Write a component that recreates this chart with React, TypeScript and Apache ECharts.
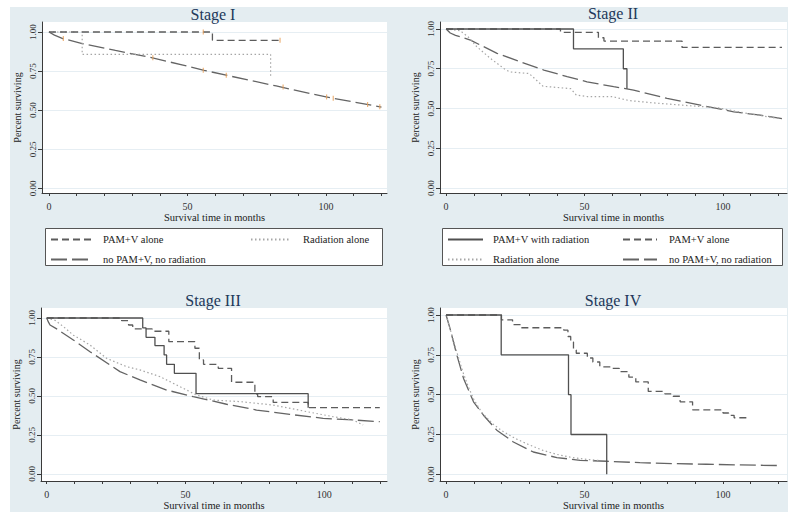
import React, { useEffect, useRef } from "react";
import * as echarts from "echarts";

// ---------- data ----------
const stageTitles = ["Stage I", "Stage II", "Stage III", "Stage IV"];
const groupNames = ["PAM+V with radiation", "PAM+V alone", "Radiation alone", "no PAM+V, no radiation"];
const xTickValues = [0, 10, 20, 30, 40, 50, 60, 70, 80, 90, 100, 110, 120];
const xLabelValues = [0, 50, 100];
const yTickValues = [0, 0.25, 0.5, 0.75, 1];

// Stage I
const s1PamAlone = [[0, 1], [59, 0.947], [83.5, 0.947]];
const s1Radiation = [[0, 1], [12, 0.857], [80, 0.714]];
const s1None = [[0, 1], [2, 0.98], [5, 0.958], [12, 0.926], [24, 0.882], [36, 0.84], [48, 0.79], [56, 0.755], [65, 0.72], [82, 0.655], [100, 0.585], [110, 0.553], [120, 0.52]];
const s1Censor = [[5.2, 0.958], [37.5, 0.836], [55.7, 0.756], [64, 0.724], [84.5, 0.648], [100.2, 0.585], [102.6, 0.577], [115, 0.537], [119.4, 0.522], [55.7, 1], [83.4, 0.947]];

// Stage II
const s2PamRad = [[0, 1], [46, 0.875], [64, 0.75], [65.3, 0.625]];
const s2PamAlone = [[0, 1], [41.3, 0.979], [55, 0.945], [57, 0.924], [85.2, 0.884], [121.3, 0.884]];
const s2Radiation = [[0, 1], [5, 0.99], [8, 0.95], [11, 0.89], [16, 0.815], [21, 0.75], [23, 0.73], [30, 0.72], [35, 0.64], [45, 0.625], [47, 0.585], [51, 0.575], [60, 0.575], [66, 0.55], [75, 0.535], [86, 0.52], [98, 0.505], [110, 0.465], [121, 0.435]];
const s2None = [[0, 1], [1.5, 0.975], [3.4, 0.96], [8.8, 0.93], [18.4, 0.847], [26.8, 0.794], [35.3, 0.742], [43.7, 0.7], [50.9, 0.668], [60.5, 0.637], [67.7, 0.616], [79.8, 0.563], [91.8, 0.521], [103.9, 0.479], [113.5, 0.458], [121.3, 0.437]];

// Stage III
const s3PamRad = [[0, 1], [34.6, 0.936], [35.8, 0.876], [39, 0.823], [42.3, 0.763], [43.2, 0.703], [46, 0.645], [53.8, 0.515], [94.2, 0.425]];
const s3PamAlone = [[0, 1], [27, 0.983], [29.5, 0.955], [31, 0.93], [38, 0.915], [44, 0.848], [53.4, 0.806], [55, 0.731], [56.5, 0.703], [61.8, 0.677], [66.6, 0.588], [75, 0.511], [76, 0.496], [81.6, 0.459], [94.2, 0.425], [120, 0.425]];
const s3Radiation = [[0, 1], [3, 0.985], [6, 0.945], [9.6, 0.89], [15.6, 0.827], [21.6, 0.741], [28.8, 0.688], [33.6, 0.667], [40.8, 0.624], [48, 0.56], [54, 0.506], [60, 0.474], [69.6, 0.464], [81.6, 0.442], [93.6, 0.4], [103, 0.368], [110.4, 0.346], [114, 0.314]];
const s3None = [[0, 1], [0.6, 0.975], [1.2, 0.955], [3.6, 0.93], [9.6, 0.859], [15.6, 0.784], [26.4, 0.656], [33.6, 0.603], [43.2, 0.538], [52.8, 0.496], [64.8, 0.447], [75.6, 0.41], [87.6, 0.382], [99.6, 0.357], [111.6, 0.345], [120, 0.335]];

// Stage IV
const s4PamRad = [[0, 1], [19.9, 0.75], [44.2, 0.5], [45.1, 0.25], [58, 0]];
const s4PamAlone = [[0, 1], [20, 0.97], [24, 0.94], [27, 0.92], [42.5, 0.905], [44, 0.865], [45, 0.83], [46, 0.78], [47, 0.76], [51, 0.73], [53, 0.705], [55.5, 0.675], [60, 0.665], [62.5, 0.645], [66, 0.61], [68.5, 0.58], [73, 0.52], [79, 0.505], [82, 0.49], [84.5, 0.455], [89, 0.405], [100, 0.385], [102, 0.37], [104, 0.355], [109.5, 0.355]];
const s4Radiation = [[0, 1], [2, 0.88], [4, 0.76], [6, 0.645], [8, 0.55], [10, 0.47], [13, 0.385], [17, 0.315], [20, 0.275], [25, 0.225], [30, 0.185], [35, 0.15], [40, 0.125], [45, 0.107], [50, 0.095], [55, 0.087]];
const s4None = [[0, 1], [1.4, 0.916], [3.9, 0.748], [6.3, 0.602], [9.9, 0.455], [13.5, 0.371], [18.3, 0.277], [24.3, 0.203], [31.5, 0.14], [40, 0.105], [48.4, 0.088], [58, 0.082], [70, 0.073], [82, 0.067], [94, 0.063], [106, 0.059], [120, 0.055]];

// ---------- styles ----------
const FONT = "Liberation Serif";
const styles: Record<string, any> = {
  "PAM+V with radiation": { color: "#505050", width: 1.3, type: "solid" },
  "PAM+V alone": { color: "#5c5c5c", width: 1.3, type: [7, 4] },
  "Radiation alone": { color: "#a6a6a6", width: 1.2, type: [1.5, 2.5] },
  "no PAM+V, no radiation": { color: "#646464", width: 1.3, type: [16, 5] },
};

const panels = [
  { grid: { left: 42, top: 22, width: 345, height: 171 }, x: [-2.5, 122], y: [-0.029, 1.064], title: [213, 14],
    series: [[groupNames[3], s1None, false], [groupNames[2], s1Radiation, true], [groupNames[1], s1PamAlone, true]] },
  { grid: { left: 440, top: 22, width: 347, height: 171 }, x: [-2.2, 123.1], y: [-0.0314, 1.044], title: [613, 13],
    series: [[groupNames[3], s2None, false], [groupNames[2], s2Radiation, false], [groupNames[1], s2PamAlone, true], [groupNames[0], s2PamRad, true]] },
  { grid: { left: 41, top: 308, width: 346, height: 173 }, x: [-2.05, 122.6], y: [-0.045, 1.064], title: [213, 300],
    series: [[groupNames[3], s3None, false], [groupNames[2], s3Radiation, false], [groupNames[1], s3PamAlone, true], [groupNames[0], s3PamRad, true]] },
  { grid: { left: 440, top: 308, width: 347, height: 173 }, x: [-2.2, 123.1], y: [-0.042, 1.044], title: [613, 300],
    series: [[groupNames[3], s4None, false], [groupNames[2], s4Radiation, false], [groupNames[1], s4PamAlone, true], [groupNames[0], s4PamRad, true]] },
];

function leg(name: string, left: number, top: number, w: number, pad: number) {
  return {
    data: [name], left, top, itemWidth: w, itemHeight: 10, padding: 0, selectedMode: false,
    itemStyle: { color: "rgba(0,0,0,0)", borderWidth: 0, opacity: 0 },
    textStyle: { fontFamily: FONT, fontSize: 10.5, color: "#222", padding: [0, 0, 0, pad] },
  };
}

export default function App() {
  const ref = useRef<HTMLDivElement>(null);
  useEffect(() => {
    document.body.style.margin = "0";
    const chart = echarts.init(ref.current!, null, { renderer: "svg" });
    const axisColor = "#3a3a3a";
    const grids: any[] = [];
    const xAxes: any[] = [];
    const yAxes: any[] = [];
    const series: any[] = [];
    const graphics: any[] = [
      { type: "rect", shape: { x: 10, y: 7, width: 778, height: 505 }, style: { fill: "#e4edf1" }, z: -10, silent: true },
      { type: "rect", shape: { x: 45.5, y: 228.5, width: 337, height: 37 }, style: { fill: "#fff", stroke: "#555", lineWidth: 1 }, z: 1, silent: true },
      { type: "rect", shape: { x: 442.5, y: 228.5, width: 340, height: 37 }, style: { fill: "#fff", stroke: "#555", lineWidth: 1 }, z: 1, silent: true },
    ];
    panels.forEach((p, i) => {
      grids.push({ ...p.grid, show: true, backgroundColor: "#ffffff", borderWidth: 0, containLabel: false });
      xAxes.push({
        type: "value", gridIndex: i, min: p.x[0], max: p.x[1],
        name: "Survival time in months", nameLocation: "middle", nameGap: 17,
        nameTextStyle: { fontFamily: FONT, fontSize: 10.5, color: "#222" },
        axisLine: { show: true, onZero: false, lineStyle: { color: axisColor, width: 1 } },
        axisTick: { show: true, length: 3, customValues: xTickValues, lineStyle: { color: axisColor } },
        axisLabel: { customValues: xLabelValues, margin: 8, fontFamily: FONT, fontSize: 10, color: "#333" },
        splitLine: { show: false },
      });
      yAxes.push({
        type: "value", gridIndex: i, min: p.y[0], max: p.y[1],
        name: "Percent surviving", nameLocation: "middle", nameGap: 20,
        nameTextStyle: { fontFamily: FONT, fontSize: 10, color: "#222" },
        axisLine: { show: true, onZero: false, lineStyle: { color: axisColor, width: 1 } },
        axisTick: { show: true, length: 4, customValues: yTickValues, lineStyle: { color: axisColor } },
        axisLabel: { customValues: yTickValues, rotate: 90, margin: 5, fontFamily: FONT, fontSize: 9, color: "#333",
          formatter: (v: number) => v.toFixed(2) },
        splitLine: { show: true, lineStyle: { color: "#e6eef3", width: 1 } },
      });
      p.series.forEach(([name, data, step]: any) => {
        const st = styles[name];
        series.push({
          type: "line", name, data, xAxisIndex: i, yAxisIndex: i,
          step: step ? "end" : false, symbol: "none", showSymbol: false, smooth: false,
          color: st.color, itemStyle: { color: st.color }, lineStyle: st, silent: true, z: 3,
        });
      });
      graphics.push({
        type: "text", x: p.title[0], y: p.title[1], silent: true,
        style: { text: stageTitles[i], fill: "#22385a", font: `16px "${FONT}"`, align: "center", verticalAlign: "middle",
          textAlign: "center", textVerticalAlign: "middle" },
      });
    });
    series.push({
      type: "scatter", name: "censored", data: s1Censor, xAxisIndex: 0, yAxisIndex: 0,
      symbol: "rect", symbolSize: [1.2, 5], itemStyle: { color: "#e8a05a" }, silent: true, z: 5,
    });

    chart.setOption({
      animation: false,
      backgroundColor: "#ffffff",
      textStyle: { fontFamily: FONT },
      grid: grids, xAxis: xAxes, yAxis: yAxes, series,
      graphic: graphics,
      legend: [
        leg(groupNames[1], 50, 234, 40, 7),
        leg(groupNames[2], 250, 234, 38, 9),
        leg(groupNames[3], 50, 254, 40, 7),
        leg(groupNames[0], 447, 234, 35, 5),
        leg(groupNames[1], 622, 234, 34, 7),
        leg(groupNames[2], 447, 254, 35, 5),
        leg(groupNames[3], 622, 254, 34, 7),
      ],
    });
    return () => chart.dispose();
  }, []);
  return <div ref={ref} style={{ width: 800, height: 518 }} />;
}
